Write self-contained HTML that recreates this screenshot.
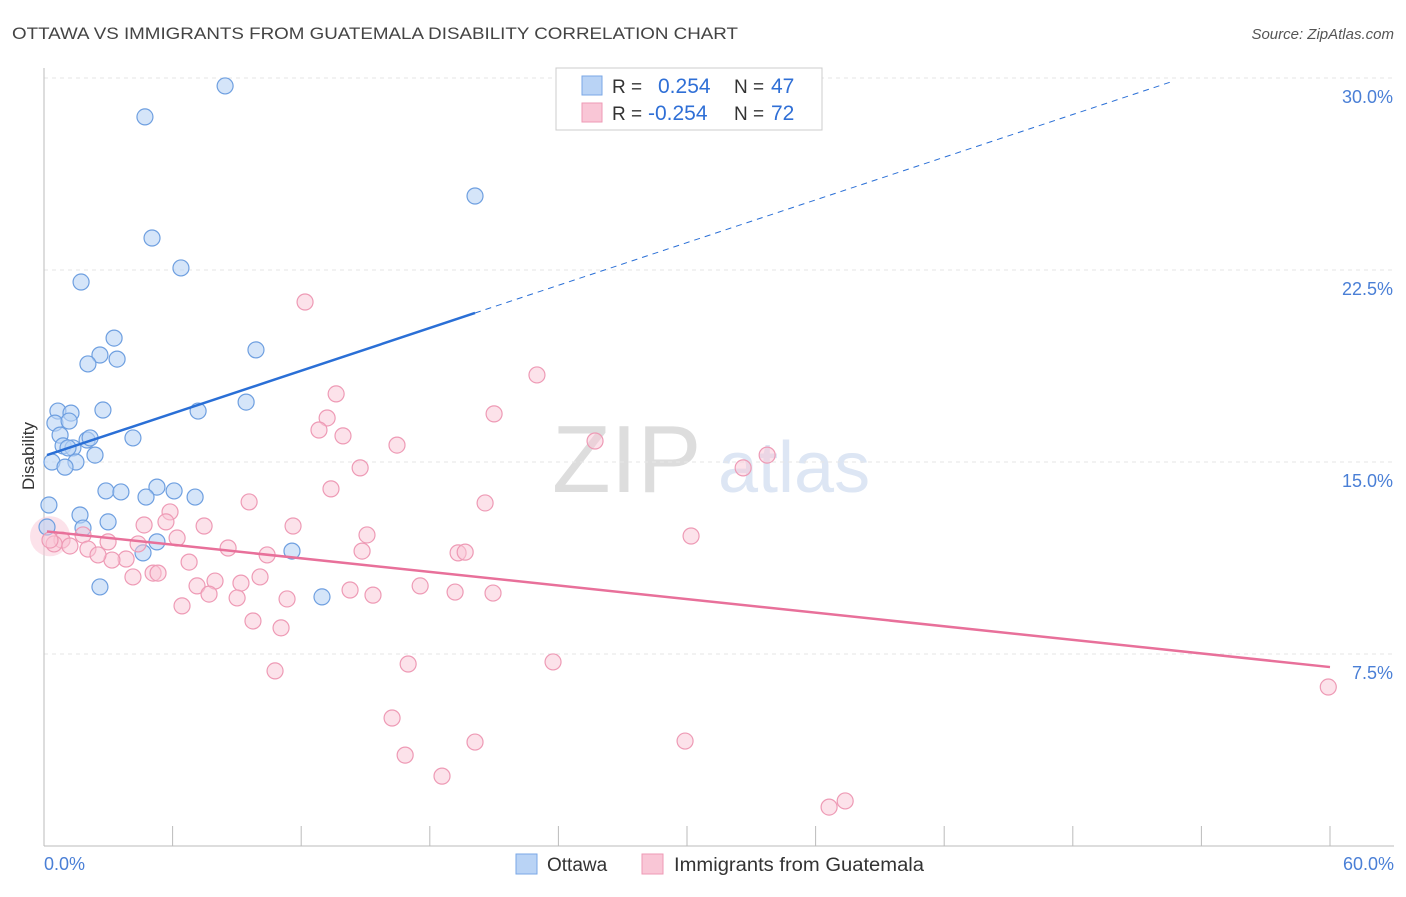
<!DOCTYPE html>
<html><head><meta charset="utf-8"><style>
body{margin:0;background:#fff;font-family:"Liberation Sans",sans-serif}
svg text{font-family:"Liberation Sans",sans-serif}
</style></head><body>
<svg id="chart" width="1406" height="892">
<text x="12" y="39" font-size="17" fill="#444" textLength="726" lengthAdjust="spacingAndGlyphs">OTTAWA VS IMMIGRANTS FROM GUATEMALA DISABILITY CORRELATION CHART</text>
<text x="1394" y="39" font-size="15" fill="#555" font-style="italic" text-anchor="end">Source: ZipAtlas.com</text>
<g>
<text x="552" y="492" font-size="96" fill="#ddd" font-family="Liberation Serif,serif">ZIP</text>
<text x="718" y="492" font-size="72" fill="#dde6f4">atlas</text>
</g>
<g id="grid"></g>
<g id="axes"></g>
<g id="points"></g>
<g id="trends"></g>
<g>
<rect x="556" y="68" width="266" height="62" fill="#fff" stroke="#ccc"/>
<rect x="582" y="76" width="20" height="19" fill="#b9d3f5" stroke="#7aa7e6"/>
<rect x="582" y="103" width="20" height="19" fill="#f9c6d6" stroke="#ee9ab5"/>
<text x="612" y="93" font-size="19" fill="#333">R =</text>
<text x="658" y="93" font-size="21" fill="#2f6fd6">0.254</text>
<text x="734" y="93" font-size="19" fill="#333">N =</text>
<text x="771" y="93" font-size="21" fill="#2f6fd6">47</text>
<text x="612" y="120" font-size="19" fill="#333">R =</text>
<text x="648" y="120" font-size="21" fill="#2f6fd6">-0.254</text>
<text x="734" y="120" font-size="19" fill="#333">N =</text>
<text x="771" y="120" font-size="21" fill="#2f6fd6">72</text>
</g>
<text x="34" y="456" font-size="17" fill="#333" transform="rotate(-90 34 456)" text-anchor="middle">Disability</text>
<text x="44" y="870" font-size="18" fill="#4a7fd6">0.0%</text>
<text x="1394" y="870" font-size="18" fill="#4a7fd6" text-anchor="end">60.0%</text>
<g>
<rect x="516" y="854" width="21" height="20" fill="#b9d3f5" stroke="#7aa7e6"/>
<text x="547" y="871" font-size="19" fill="#333">Ottawa</text>
<rect x="642" y="854" width="21" height="20" fill="#f9c6d6" stroke="#ee9ab5"/>
<text x="674" y="871" font-size="19" fill="#333" textLength="250" lengthAdjust="spacingAndGlyphs">Immigrants from Guatemala</text>
</g>
</svg>
<script>
const yTicks=[7.5,15,22.5,30];
const yTickLabels=["7.5%","15.0%","22.5%","30.0%"];
const blueX=[8.45,4.71,20.11,5.04,6.39,1.73,3.27,9.89,2.61,2.05,3.41,9.43,2.75,0.65,1.26,7.19,0.51,1.17,0.75,4.15,2.01,2.15,0.89,1.35,1.12,2.38,0.37,1.49,0.98,0.23,2.89,3.59,5.27,6.07,7.05,4.76,1.68,2.99,1.82,0.14,5.27,4.62,11.57,2.61,12.97];
const blueY=[29.69,28.48,25.39,23.75,22.58,22.03,19.84,19.38,19.18,18.83,19.02,17.34,17.03,16.99,16.91,16.99,16.52,16.6,16.05,15.94,15.86,15.94,15.63,15.55,15.55,15.27,15.0,15.0,14.8,13.32,13.87,13.83,14.02,13.87,13.63,13.63,12.93,12.66,12.42,12.46,11.88,11.45,11.52,10.12,9.73];
const pinkX=[12.18,23.0,13.63,21.0,13.21,12.83,13.95,16.47,25.71,14.75,33.74,32.62,13.39,9.57,20.58,5.88,5.69,4.67,7.47,11.62,15.07,30.19,1.82,6.21,2.99,4.39,0.84,0.47,1.21,2.05,8.59,10.41,14.84,19.32,19.65,6.77,3.83,3.17,2.52,10.08,4.15,5.09,5.32,7.98,9.19,7.14,14.28,15.35,17.55,19.18,20.95,7.7,9.01,11.34,6.44,9.75,11.06,16.99,23.75,10.78,16.24,20.11,29.91,16.85,18.57,37.38,36.63,59.92,0.28];
const pinkY=[21.25,18.4,17.66,16.88,16.72,16.25,16.02,15.66,15.82,14.77,15.27,14.77,13.95,13.44,13.4,13.05,12.66,12.54,12.5,12.5,12.15,12.11,12.15,12.03,11.88,11.8,11.95,11.8,11.72,11.6,11.64,11.37,11.52,11.45,11.48,11.09,11.21,11.17,11.37,10.51,10.51,10.66,10.66,10.35,10.27,10.16,10.0,9.8,10.16,9.92,9.88,9.84,9.69,9.65,9.38,8.79,8.52,7.11,7.19,6.84,5.0,4.06,4.1,3.55,2.73,1.76,1.52,6.21,11.95];
const blueTrend=[15.23,0.278]; const pinkTrend=[12.3,-0.0885];
const NS="http://www.w3.org/2000/svg";
const X=v=>44+v*1286/60, Y=v=>846-v*25.6;
function mk(tag,a,parent){const e=document.createElementNS(NS,tag);for(const k in a)e.setAttribute(k,a[k]);document.getElementById(parent).appendChild(e);return e;}
yTicks.forEach((t,i)=>{
 const g=mk('line',{x1:44,x2:1394,y1:Y(t),y2:Y(t),stroke:'#e6e6e6','stroke-dasharray':'4,4'},'grid');
 
 
 const l=mk('text',{x:1393,y:Y(t)+25,'font-size':18,fill:'#4a7fd6','text-anchor':'end'},'grid');l.textContent=yTickLabels[i];
 
 
});
let ax=mk('line',{x1:44,x2:44,y1:68,y2:846,stroke:'#bbb'},'axes');


ax=mk('line',{x1:44,x2:1394,y1:846,y2:846,stroke:'#bbb'},'axes');


for(let i=0;i<=10;i++){const t=mk('line',{x1:X(i*6),x2:X(i*6),y1:826,y2:846,stroke:'#bbb'},'axes');
 
 }
mk('circle',{cx:X(0.28),cy:Y(12.1),r:20,fill:'#f9c6d6','fill-opacity':0.5,stroke:'none'},'points');
blueX.forEach((v,i)=>{const c=mk('circle',{cx:X(v),cy:Y(blueY[i]),r:8,fill:'#b9d3f5','fill-opacity':0.6,stroke:'#6e9fe0','stroke-width':1.2},'points');
 
 });
pinkX.forEach((v,i)=>{const c=mk('circle',{cx:X(v),cy:Y(pinkY[i]),r:8,fill:'#f9c6d6','fill-opacity':0.5,stroke:'#ee9ab5','stroke-width':1.2},'points');
 
 });
const bx0=0.14,bx1=20.11,bx2=52.6;
let t=mk('line',{x1:X(bx0),y1:Y(blueTrend[0]+blueTrend[1]*bx0),x2:X(bx1),y2:Y(blueTrend[0]+blueTrend[1]*bx1),stroke:'#2a6fd6','stroke-width':2.5},'trends');


t=mk('line',{x1:X(bx1),y1:Y(blueTrend[0]+blueTrend[1]*bx1),x2:X(bx2),y2:Y(blueTrend[0]+blueTrend[1]*bx2),stroke:'#2a6fd6','stroke-width':1,'stroke-dasharray':'6,5'},'trends');


t=mk('line',{x1:X(0.14),y1:Y(pinkTrend[0]+pinkTrend[1]*0.14),x2:X(60),y2:Y(pinkTrend[0]+pinkTrend[1]*60),stroke:'#e8709a','stroke-width':2.5},'trends');


</script>
</body></html>
